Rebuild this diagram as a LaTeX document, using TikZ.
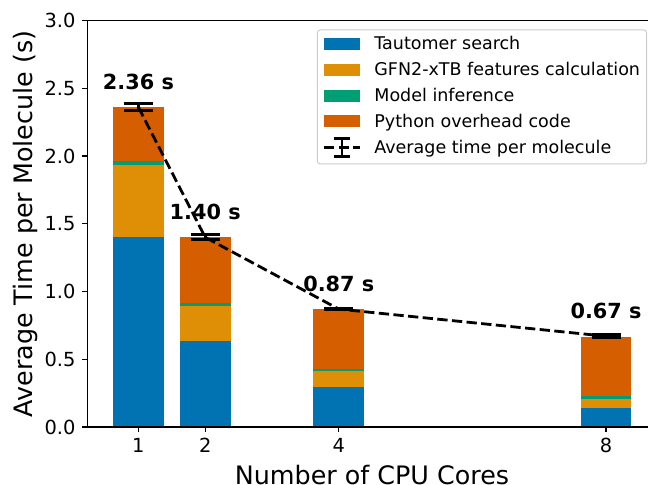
\documentclass[tikz,border=0pt]{standalone}
\usepackage{fontspec}
\setmainfont{DejaVu Sans}

\definecolor{taut}{HTML}{0173B2}
\definecolor{gfn}{HTML}{DE8F05}
\definecolor{model}{HTML}{029E73}
\definecolor{python}{HTML}{D55E00}

\begin{document}
\begin{tikzpicture}[x=66.8pt,y=135.5pt,
 spine/.style={line width=1.1pt,black},
 ylab/.style={font=\fontsize{19.4}{23}\selectfont,inner sep=0pt,anchor=east},
 xlab/.style={font=\fontsize{19.4}{23}\selectfont,inner sep=0pt,anchor=north},
 axlab/.style={font=\fontsize{25.4}{30}\selectfont,inner sep=0pt,anchor=base},
 ann/.style={font=\fontsize{20.8}{25}\selectfont\bfseries,inner sep=0pt,anchor=base},
 avg/.style={line width=2.8pt,dash pattern=on 10.3pt off 4.4pt},
 errbar/.style={line width=2.8pt},
 leg/.style={font=\fontsize{17.5}{21}\selectfont,inner sep=0pt,anchor=base west}]
\useasboundingbox (-1.0719,-0.428) rectangle (8.6287,3.1513);

% stacked bars, one per core count
\fill[taut] (0.62,0) rectangle (1.38,1.40);
\fill[gfn] (0.62,1.40) rectangle (1.38,1.93);
\fill[model] (0.62,1.93) rectangle (1.38,1.96);
\fill[python] (0.62,1.96) rectangle (1.38,2.36);
\fill[taut] (1.62,0) rectangle (2.38,0.635);
\fill[gfn] (1.62,0.635) rectangle (2.38,0.895);
\fill[model] (1.62,0.895) rectangle (2.38,0.915);
\fill[python] (1.62,0.915) rectangle (2.38,1.40);
\fill[taut] (3.62,0) rectangle (4.38,0.295);
\fill[gfn] (3.62,0.295) rectangle (4.38,0.413);
\fill[model] (3.62,0.413) rectangle (4.38,0.428);
\fill[python] (3.62,0.428) rectangle (4.38,0.87);
\fill[taut] (7.62,0) rectangle (8.38,0.14);
\fill[gfn] (7.62,0.14) rectangle (8.38,0.207);
\fill[model] (7.62,0.207) rectangle (8.38,0.229);
\fill[python] (7.62,0.229) rectangle (8.38,0.665);

% axes frame and ticks
\draw[spine] (8.6287,3) -- (0.232,3) -- (0.232,0) -- (8.6287,0);
\draw[spine] (0.232,0) -- ++(-0.073,0); \node[ylab] (y0) at (0.06,0) {0.0};
\draw[spine] (0.232,0.5) -- ++(-0.073,0); \node[ylab] (y1) at (0.06,0.5) {0.5};
\draw[spine] (0.232,1) -- ++(-0.073,0); \node[ylab] (y2) at (0.06,1) {1.0};
\draw[spine] (0.232,1.5) -- ++(-0.073,0); \node[ylab] (y3) at (0.06,1.5) {1.5};
\draw[spine] (0.232,2) -- ++(-0.073,0); \node[ylab] (y4) at (0.06,2) {2.0};
\draw[spine] (0.232,2.5) -- ++(-0.073,0); \node[ylab] (y5) at (0.06,2.5) {2.5};
\draw[spine] (0.232,3) -- ++(-0.073,0); \node[ylab] (y6) at (0.06,3) {3.0};
\draw[spine] (1,0) -- ++(0,-0.036); \node[xlab] (x1) at (1,-0.081) {1};
\draw[spine] (2,0) -- ++(0,-0.036); \node[xlab] (x2) at (2,-0.081) {2};
\draw[spine] (4,0) -- ++(0,-0.036); \node[xlab] (x4) at (4,-0.081) {4};
\draw[spine] (8,0) -- ++(0,-0.036); \node[xlab] (x8) at (8,-0.081) {8};
\node[axlab] (xtitle) at (4.497,-0.4207) {Number of CPU Cores};
\node[axlab,rotate=90] (ytitle) at (-0.578,1.498) {Average Time per Molecule (s)};

% mean time per molecule with error bars
\coordinate (m1) at (1,2.36);
\coordinate (m2) at (2,1.40);
\coordinate (m4) at (4,0.87);
\coordinate (m8) at (8,0.67);
\draw[errbar] ([yshift=-3.4pt]m1) -- ([yshift=3.4pt]m1);
\draw[errbar] ([xshift=-14.5pt,yshift=-3.4pt]m1) -- ([xshift=14.5pt,yshift=-3.4pt]m1);
\draw[errbar] ([xshift=-14.5pt,yshift=3.4pt]m1) -- ([xshift=14.5pt,yshift=3.4pt]m1);
\draw[errbar] ([yshift=-2.5pt]m2) -- ([yshift=2.5pt]m2);
\draw[errbar] ([xshift=-14.5pt,yshift=-2.5pt]m2) -- ([xshift=14.5pt,yshift=-2.5pt]m2);
\draw[errbar] ([xshift=-14.5pt,yshift=2.5pt]m2) -- ([xshift=14.5pt,yshift=2.5pt]m2);
\draw[errbar] ([xshift=-14.5pt,yshift=-0.8pt]m4) -- ([xshift=14.5pt,yshift=-0.8pt]m4);
\draw[errbar] ([xshift=-14.5pt,yshift=0.8pt]m4) -- ([xshift=14.5pt,yshift=0.8pt]m4);
\draw[errbar] ([xshift=-14.5pt,yshift=-1.4pt]m8) -- ([xshift=14.5pt,yshift=-1.4pt]m8);
\draw[errbar] ([xshift=-14.5pt,yshift=1.4pt]m8) -- ([xshift=14.5pt,yshift=1.4pt]m8);
\draw[avg] (m1) -- (m2) -- (m4) -- (m8);
\node[ann] (t1) at (1,2.49) {2.36 s};
\node[ann] (t2) at (2,1.53) {1.40 s};
\node[ann] (t4) at (4,1.00) {0.87 s};
\node[ann] (t8) at (8,0.80) {0.67 s};

% legend
\draw[black!20,fill=white,fill opacity=0.8,rounded corners=3pt,line width=1pt] (3.678,1.941) rectangle (8.609,2.930);
\fill[taut] (3.778,2.7823) rectangle (4.317,2.8709);
\fill[gfn] (3.778,2.5919) rectangle (4.317,2.6805);
\fill[model] (3.778,2.4015) rectangle (4.317,2.4901);
\fill[python] (3.778,2.2111) rectangle (4.317,2.2997);
\coordinate (lk) at (4.048,2.0649);
\draw[avg] (3.778,2.0649) -- (4.317,2.0649);
\draw[errbar] ([yshift=-9pt]lk) -- ([yshift=9pt]lk);
\draw[errbar] ([xshift=-8.3pt,yshift=-9pt]lk) -- ([xshift=8.3pt,yshift=-9pt]lk);
\draw[errbar] ([xshift=-8.3pt,yshift=9pt]lk) -- ([xshift=8.3pt,yshift=9pt]lk);
\node[leg] (l1) at (4.530,2.7823) {Tautomer search};
\node[leg] (l2) at (4.530,2.5919) {GFN2-xTB features calculation};
\node[leg] (l3) at (4.530,2.4015) {Model inference};
\node[leg] (l4) at (4.530,2.2111) {Python overhead code};
\node[leg] (l5) at (4.530,2.0207) {Average time per molecule};
\end{tikzpicture}
\end{document}
